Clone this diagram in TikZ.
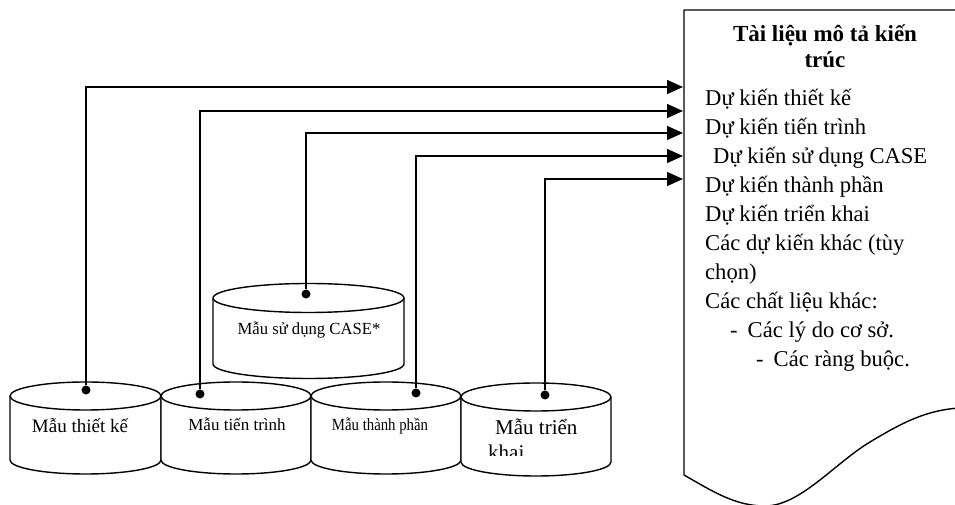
\documentclass[tikz,border=0pt]{standalone}
\usepackage{fontspec}
\setmainfont{Liberation Serif}
\usetikzlibrary{arrows.meta}

% drum-shaped data store: left x, right x, top-ellipse y, bottom-ellipse y, ellipse y radius
\newcommand\drumshape[5]{%
  \pgfmathsetmacro\drumrx{(#2-#1)/2}%
  \filldraw[outline, fill=white] (#1,#3) -- (#1,#4)
    arc[start angle=180, end angle=360, x radius=\drumrx pt, y radius=#5pt]
    -- (#2,#3)
    arc[start angle=0, end angle=180, x radius=\drumrx pt, y radius=#5pt] -- cycle;
  \draw[outline] (#1,#3)
    arc[start angle=180, end angle=360, x radius=\drumrx pt, y radius=#5pt];
}

\begin{document}
\begin{tikzpicture}[x=1pt, y=1pt,
  outline/.style={line width=1.4pt, line join=round},
  conn/.style={line width=1.4pt, -{Triangle[length=16pt, width=14pt]}},
  dotmark/.style={circle, fill=black, inner sep=0pt, minimum size=9pt},
  doctext/.style={anchor=base west, inner sep=0pt, font=\fontsize{22.6}{26}\selectfont},
  doctitle/.style={anchor=base, inner sep=0pt, font=\bfseries\fontsize{23}{26}\selectfont},
  drumtext/.style={anchor=base, inner sep=0pt, font=\fontsize{17}{20}\selectfont}]
\useasboundingbox (0,0) rectangle (955,505);

% architecture document with a torn lower edge
\draw[outline] (960,495) -- (684,495) -- (684,30)
  .. controls (712,14) and (735,-1) .. (765,-1)
  .. controls (800,-1) and (835,42) .. (870,63)
  .. controls (900,81) and (925,95) .. (960,97);

\node[doctitle] (title1) at (825,463) {Tài liệu mô tả kiến};
\node[doctitle] (title2) at (825,437) {trúc};
\node[doctext] (l1) at (705,399) {Dự kiến thiết kế};
\node[doctext] (l2) at (705,370) {Dự kiến tiến trình};
\node[doctext] (l3) at (713,341) {Dự kiến sử dụng CASE};
\node[doctext] (l4) at (705,312) {Dự kiến thành phần};
\node[doctext] (l5) at (705,283) {Dự kiến triển khai};
\node[doctext] (l6) at (705,254) {Các dự kiến khác (tùy};
\node[doctext] (l7) at (705,225) {chọn)};
\node[doctext] (l8) at (705,196) {Các chất liệu khác:};
\node[doctext] (l9) at (730,167) {-\hspace{10pt}Các lý do cơ sở.};
\node[doctext] (l10) at (756,138) {-\hspace{10pt}Các ràng buộc.};

% arrow landing points on the document edge
\coordinate (t1) at (683,418);
\coordinate (t2) at (683,394);
\coordinate (t3) at (683,372);
\coordinate (t4) at (683,349);
\coordinate (t5) at (683,326);

% model stores
\drumshape{213}{404}{207}{141}{14.5}
\drumshape{10}{161}{109}{45}{14}
\drumshape{161}{311}{109}{45}{14}
\drumshape{311}{461}{109}{45}{14}
\drumshape{461}{611}{108}{43}{14}

\node[drumtext] (mcase) at (309,170) {\scalebox{0.98}[1]{Mẫu sử dụng CASE*}};
\node[drumtext, font=\fontsize{19}{22}\selectfont] (mdesign) at (80,72) {Mẫu thiết kế};
\node[drumtext] (mprocess) at (237,74) {Mẫu tiến trình};
\node[drumtext] (mcomp) at (380,74) {\scalebox{0.87}[1]{Mẫu thành phần}};
\node[anchor=base west, inner sep=0pt, font=\fontsize{21}{24}\selectfont] (mdeploy) at (495,70) {Mẫu triển};
\begin{scope}
  \clip (480,49) rectangle (600,70);
  \node[anchor=base west, inner sep=0pt, font=\fontsize{21}{24}\selectfont] (mdeploy2) at (488,45) {khai};
\end{scope}

% connection points on the stores
\node[dotmark] (d1) at (86,115) {};
\node[dotmark] (d2) at (200,111) {};
\node[dotmark] (d3) at (306,211) {};
\node[dotmark] (d4) at (416,112) {};
\node[dotmark] (d5) at (545,110) {};

\draw[conn] (d1) |- (t1);
\draw[conn] (d2) |- (t2);
\draw[conn] (d3) |- (t3);
\draw[conn] (d4) |- (t4);
\draw[conn] (d5) |- (t5);
\end{tikzpicture}
\end{document}
